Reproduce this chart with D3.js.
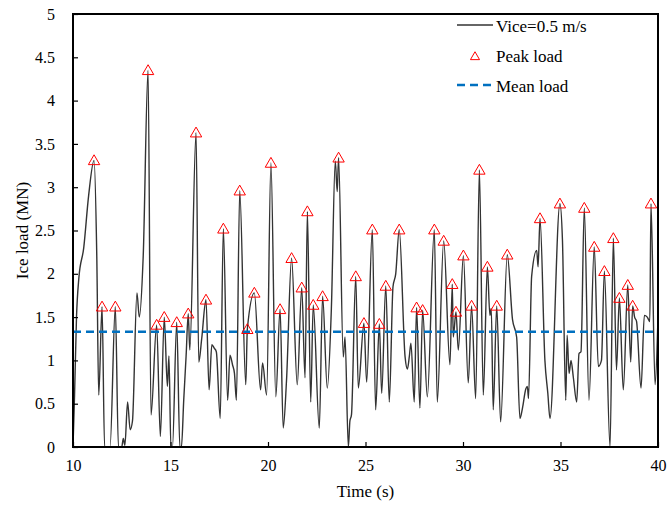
<!DOCTYPE html>
<html>
<head>
<meta charset="utf-8">
<script src="https://cdn.jsdelivr.net/npm/d3@7"></script>
<style>
  body { margin: 0; background: #fff; }
  text { font-family: "Liberation Serif", "Times New Roman", serif; fill: #000; }
</style>
</head>
<body>
<div id="chart"></div>
<script>
// ice load time history (t in s, load in MN)
var traceT = [10.00,10.08,10.18,10.30,10.55,10.80,11.08,11.22,11.32,11.49,11.62,11.90,12.17,12.33,12.50,12.58,12.66,12.80,12.93,13.05,
  13.28,13.40,13.60,13.85,14.00,14.29,14.48,14.68,14.84,14.92,15.02,15.10,15.32,15.48,15.56,15.68,15.80,15.91,15.99,16.31,
  16.45,16.60,16.82,16.98,17.12,17.25,17.35,17.55,17.71,17.93,18.05,18.18,18.28,18.38,18.55,18.86,18.94,19.30,19.62,19.72,
  19.93,20.15,20.40,20.62,20.78,20.95,21.21,21.50,21.73,21.90,22.02,22.19,22.32,22.63,22.80,23.04,23.25,23.45,23.55,23.62,
  23.86,23.95,24.12,24.20,24.28,24.50,24.63,24.92,25.06,25.35,25.52,25.71,25.83,26.04,26.22,26.41,26.55,26.73,27.03,27.15,
  27.25,27.33,27.50,27.62,27.79,27.93,28.17,28.53,28.68,29.01,29.33,29.45,29.50,29.64,29.76,30.02,30.27,30.44,30.65,30.84,
  31.04,31.25,31.38,31.45,31.55,31.73,31.93,32.27,32.54,32.75,32.92,33.05,33.22,33.30,33.36,33.52,33.78,33.85,33.95,34.20,
  34.35,34.46,34.97,35.10,35.27,35.34,35.44,35.54,35.66,35.83,35.95,36.05,36.22,36.46,36.73,36.94,37.10,37.25,37.54,37.71,
  37.87,38.02,38.22,38.45,38.60,38.70,38.80,38.90,39.13,39.30,39.45,39.58,39.64,39.85,40.00]
var traceV = [0.00,0.60,1.50,1.95,2.30,2.90,3.31,2.20,0.60,1.62,0.00,0.00,1.62,0.00,0.00,0.10,0.02,0.52,0.20,0.30,
  1.78,1.50,2.20,4.35,0.37,1.41,0.12,1.50,0.70,1.05,0.00,0.00,1.44,0.00,0.00,0.55,1.05,1.54,1.12,3.63,
  0.98,1.25,1.70,0.66,1.18,1.14,1.10,0.33,2.52,0.54,1.06,0.95,0.85,0.54,2.96,0.72,1.36,1.78,0.66,0.97,
  0.60,3.28,0.58,1.59,0.22,0.77,2.18,0.72,1.84,0.80,2.72,0.52,1.64,0.22,1.74,0.68,1.60,3.30,2.95,3.34,
  1.04,1.27,0.00,0.30,0.37,1.97,0.68,1.43,0.75,2.51,0.43,1.42,0.62,1.86,0.52,1.85,2.00,2.51,1.04,0.90,
  1.05,1.20,0.52,1.61,0.45,1.58,0.58,2.51,0.52,2.38,0.95,1.88,1.27,1.56,1.12,2.21,0.74,1.63,0.56,3.20,
  0.60,2.08,1.52,1.60,0.43,1.63,0.29,2.22,1.47,1.27,0.33,0.45,0.67,0.70,0.56,1.97,2.27,2.08,2.64,1.00,
  0.62,0.33,2.81,2.39,0.54,1.29,0.85,1.00,0.80,0.52,1.08,1.10,2.76,0.54,2.31,0.93,1.00,2.03,0.00,2.41,
  0.89,1.72,0.66,1.87,0.98,1.63,1.50,1.45,0.68,1.52,1.50,1.45,2.81,0.72,1.50]

// peak loads (triangles)
var peakT = [11.08,11.49,12.17,13.85,14.29,14.68,15.32,15.91,16.31,16.82,17.71,18.55,18.94,19.30,20.15,20.62,21.21,21.73,22.02,22.32,
  22.80,23.62,24.50,24.92,25.35,25.71,26.04,26.73,27.62,27.93,28.53,29.01,29.45,29.64,30.02,30.44,30.84,31.25,31.73,32.27,
  33.95,34.97,36.22,36.73,37.25,37.71,38.02,38.45,38.70,39.64]
var peakV = [3.31,1.62,1.62,4.35,1.41,1.50,1.44,1.54,3.63,1.70,2.52,2.96,1.36,1.78,3.28,1.59,2.18,1.84,2.72,1.64,
  1.74,3.34,1.97,1.43,2.51,1.42,1.86,2.51,1.61,1.58,2.51,2.38,1.88,1.56,2.21,1.63,3.20,2.08,1.63,2.22,
  2.64,2.81,2.76,2.31,2.03,2.41,1.72,1.87,1.63,2.81]

var meanLoad = 1.33
var xTicks = [10, 15, 20, 25, 30, 35, 40]
var yTicks = [0, 0.5, 1, 1.5, 2, 2.5, 3, 3.5, 4, 4.5, 5]
var legendLabels = ["Vice=0.5 m/s", "Peak load", "Mean load"]

var serif = '"Liberation Serif", "Times New Roman", serif'

var width = 669, height = 507
var margin = {top: 14, right: 11, bottom: 60, left: 73}
var w = width - margin.left - margin.right
var h = height - margin.top - margin.bottom

var svg = d3.select("#chart").append("svg")
    .attr("width", width)
    .attr("height", height)

var g = svg.append("g")
    .attr("transform", "translate(" + margin.left + "," + margin.top + ")")

var x = d3.scaleLinear().domain([10, 40]).range([0, w])
var y = d3.scaleLinear().domain([0, 5]).range([h, 0])

var trace = traceT.map(function (t, i) { return [t, traceV[i]] })
var peaks = peakT.map(function (t, i) { return [t, peakV[i]] })

g.append("defs").append("clipPath").attr("id", "clip")
    .append("rect").attr("width", w).attr("height", h)

// load trace
var line = d3.line()
    .x(function (d) { return x(d[0]) })
    .y(function (d) { return y(d[1]) })
    .curve(d3.curveMonotoneX)

g.append("path")
    .datum(trace)
    .attr("clip-path", "url(#clip)")
    .attr("d", line)
    .attr("fill", "none")
    .attr("stroke", "#333")
    .attr("stroke-width", 1.4)

// mean load
g.append("line")
    .attr("x1", x(10)).attr("x2", x(40))
    .attr("y1", y(meanLoad)).attr("y2", y(meanLoad))
    .attr("stroke", "#0070c0")
    .attr("stroke-width", 2.5)
    .attr("stroke-dasharray", "8,5")

// peaks
var tri = d3.symbol().type(d3.symbolTriangle).size(56)
g.selectAll(".peak")
    .data(peaks)
    .enter().append("path")
    .attr("class", "peak")
    .attr("d", tri)
    .attr("transform", function (d) { return "translate(" + x(d[0]) + "," + (y(d[1]) + 1) + ")" })
    .attr("fill", "none")
    .attr("stroke", "#ff0000")
    .attr("stroke-width", 1)

// axes, ticks inside
var xAxis = d3.axisBottom(x).tickValues(xTicks).tickSizeInner(-5).tickSizeOuter(0).tickPadding(13)
var yAxis = d3.axisLeft(y).tickValues(yTicks).tickSizeInner(-5).tickSizeOuter(0).tickPadding(18)
    .tickFormat(function (d) { return d })

var gx = g.append("g").attr("transform", "translate(0," + h + ")").call(xAxis)
var gy = g.append("g").call(yAxis)
gx.attr("font-family", serif)
gy.attr("font-family", serif)
gx.select(".domain").remove()
gy.select(".domain").remove()
gx.selectAll("text").style("font-size", "16px")
gy.selectAll("text").style("font-size", "16px")
gx.selectAll("line").attr("stroke-width", 1.2)
gy.selectAll("line").attr("stroke-width", 1.2)

// frame
g.append("rect")
    .attr("width", w).attr("height", h)
    .attr("fill", "none")
    .attr("stroke", "#000")
    .attr("stroke-width", 2)

// axis titles
svg.append("text")
    .attr("x", margin.left + w / 2)
    .attr("y", 497)
    .attr("text-anchor", "middle")
    .style("font-size", "17px")
    .text("Time (s)")

svg.append("text")
    .attr("transform", "translate(28," + (margin.top + h / 2) + ") rotate(-90)")
    .attr("text-anchor", "middle")
    .style("font-size", "17px")
    .text("Ice load (MN)")

// legend
var lg = svg.append("g").attr("transform", "translate(457,0)")
lg.append("line").attr("x1", 0).attr("x2", 36).attr("y1", 25).attr("y2", 25)
    .attr("stroke", "#333").attr("stroke-width", 1.4)
lg.append("path").attr("d", d3.symbol().type(d3.symbolTriangle).size(36))
    .attr("transform", "translate(18,57)")
    .attr("fill", "none").attr("stroke", "#ff0000").attr("stroke-width", 1)
lg.append("line").attr("x1", 0).attr("x2", 36).attr("y1", 85).attr("y2", 85)
    .attr("stroke", "#0070c0").attr("stroke-width", 2.5).attr("stroke-dasharray", "8,5")

lg.selectAll(".lt")
    .data(legendLabels)
    .enter().append("text")
    .attr("class", "lt")
    .attr("x", 39)
    .attr("y", function (d, i) { return 32 + i * 30 })
    .style("font-size", "17px")
    .text(function (d) { return d })
</script>
</body>
</html>
